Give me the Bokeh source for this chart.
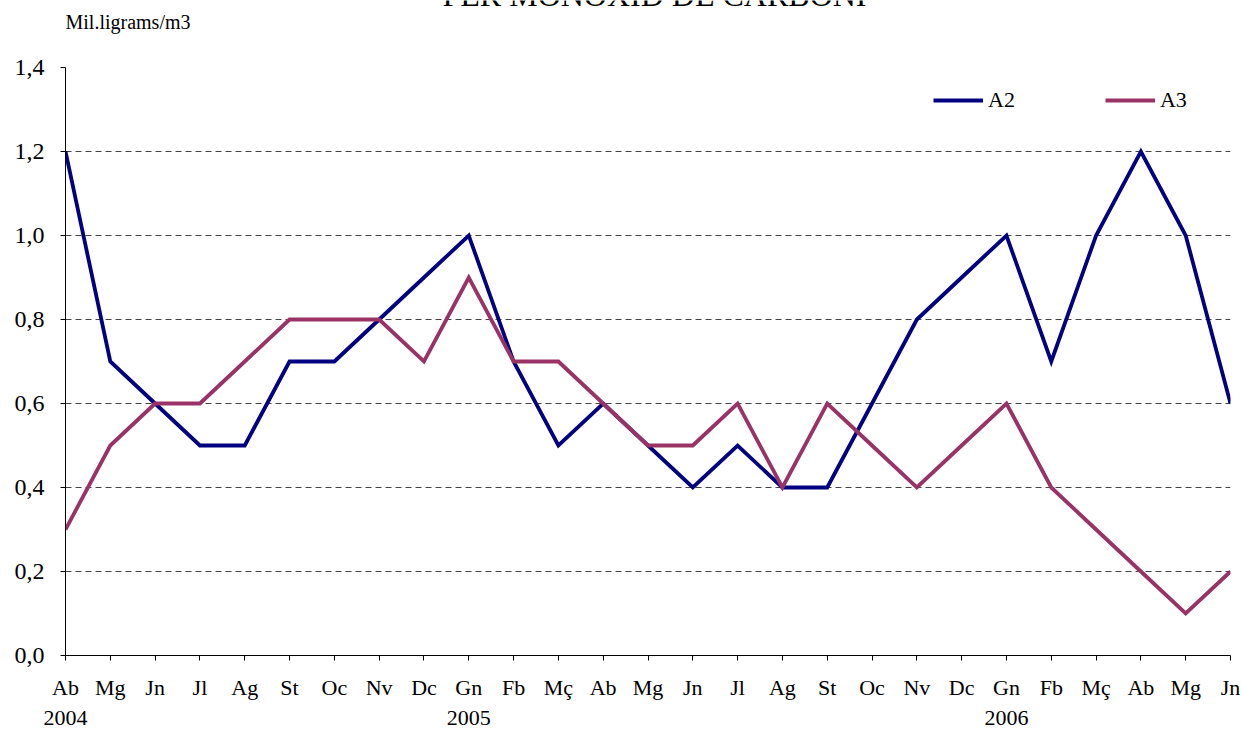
from bokeh.plotting import figure
from bokeh.layouts import column
from bokeh.models import (FixedTicker, Range1d, Legend, LegendItem, LinearAxis)
from bokeh.core.properties import value
from bokeh.embed import file_html
from bokeh.resources import INLINE

months = ["Ab", "Mg", "Jn", "Jl", "Ag", "St", "Oc", "Nv", "Dc", "Gn", "Fb", "Mç",
          "Ab", "Mg", "Jn", "Jl", "Ag", "St", "Oc", "Nv", "Dc", "Gn", "Fb", "Mç",
          "Ab", "Mg", "Jn"]
a2 = [1.2, 0.7, 0.6, 0.5, 0.5, 0.7, 0.7, 0.8, 0.9, 1.0, 0.7, 0.5, 0.6, 0.5,
      0.4, 0.5, 0.4, 0.4, 0.6, 0.8, 0.9, 1.0, 0.7, 1.0, 1.2, 1.0, 0.6]
a3 = [0.3, 0.5, 0.6, 0.6, 0.7, 0.8, 0.8, 0.8, 0.7, 0.9, 0.7, 0.7, 0.6, 0.5,
      0.5, 0.6, 0.4, 0.6, 0.5, 0.4, 0.5, 0.6, 0.4, 0.3, 0.2, 0.1, 0.2]
years = ["2004", "2005", "2006"]
year_idx = [0, 9, 21]
y_ticks = [0.0, 0.2, 0.4, 0.6, 0.8, 1.0, 1.2, 1.4]
title_text = "PER MONOXID DE CARBONI"
unit_text = "Mil.ligrams/m3"

FONT = "Liberation Serif"
W = 1242
HEAD_H = 55
LEFT, RIGHT = 65, 12

# ---- header strip (title partly cut off at the top, unit label) ----
head = figure(width=W, height=HEAD_H, output_backend="svg", toolbar_location=None,
              title=None,
              x_range=Range1d(LEFT, W - RIGHT), y_range=Range1d(HEAD_H, 0),
              x_axis_type=None, y_axis_type=None,
              min_border_left=LEFT, min_border_right=RIGHT, min_border_top=0,
              min_border_bottom=0)
head.outline_line_color = None
head.xgrid.visible = False
head.ygrid.visible = False
head.text(x=[654], y=[-6], text=[title_text], text_font=value(FONT),
          text_font_size="32px", text_align="center",
          text_baseline="alphabetic", text_color="black")
head.text(x=[65], y=[21], text=[unit_text], text_font=value(FONT),
          text_font_size="20px", text_align="left",
          text_baseline="alphabetic", text_color="black")

# ---- main chart ----
xs = list(range(len(months)))
p = figure(width=W, height=731 - HEAD_H, output_backend="svg", toolbar_location=None,
           title=None,
           x_range=Range1d(0, len(months) - 1), y_range=Range1d(0, 1.4),
           min_border_left=LEFT, min_border_right=RIGHT, min_border_top=12,
           min_border_bottom=76)
p.outline_line_color = None

p.xaxis.ticker = FixedTicker(ticks=xs)
p.xaxis.major_label_overrides = {i: m for i, m in enumerate(months)}
p.yaxis.ticker = FixedTicker(ticks=y_ticks)
p.yaxis.major_label_overrides = {t: f"{t:.1f}".replace(".", ",") for t in y_ticks}
for ax in (p.xaxis, p.yaxis):
    ax.axis_line_color = "black"
    ax.axis_line_width = 1
    ax.major_tick_line_color = "black"
    ax.major_tick_in = 0
    ax.major_tick_out = 5
    ax.minor_tick_line_color = None
    ax.major_label_text_font = FONT
    ax.major_label_text_color = "black"
p.xaxis.major_label_text_font_size = "22px"
p.yaxis.major_label_text_font_size = "24px"
p.xaxis.major_label_standoff = 14
p.yaxis.major_label_standoff = 16

# year labels as a second, line-less axis below the month axis
year_axis = LinearAxis(ticker=FixedTicker(ticks=year_idx),
                       major_label_overrides={i: y for i, y in zip(year_idx, years)},
                       axis_line_color=None, major_tick_line_color=None,
                       minor_tick_line_color=None, major_tick_in=0, major_tick_out=0,
                       major_label_standoff=8, major_label_text_font=FONT,
                       major_label_text_font_size="22px",
                       major_label_text_color="black")
p.add_layout(year_axis, "below")

p.xgrid.grid_line_color = None
p.ygrid.ticker = FixedTicker(ticks=y_ticks[1:-1])
p.ygrid.grid_line_color = "#444444"
p.ygrid.grid_line_dash = "6 4"
p.ygrid.grid_line_width = 1

r2 = p.line(xs, a2, line_color="#000080", line_width=3.8, line_join="miter")
r3 = p.line(xs, a3, line_color="#993366", line_width=3.8, line_join="miter")

legend = Legend(items=[LegendItem(label="A2", renderers=[r2]),
                       LegendItem(label="A3", renderers=[r3])],
                orientation="horizontal", location=(868, 542),
                glyph_width=50, glyph_height=24, label_standoff=5,
                spacing=90, padding=0, margin=0,
                border_line_alpha=0, background_fill_alpha=0,
                label_text_font=FONT, label_text_font_size="22px",
                label_height=24, label_text_color="black")
p.add_layout(legend, "center")

open("out.html", "w").write(file_html(column(head, p), INLINE))
